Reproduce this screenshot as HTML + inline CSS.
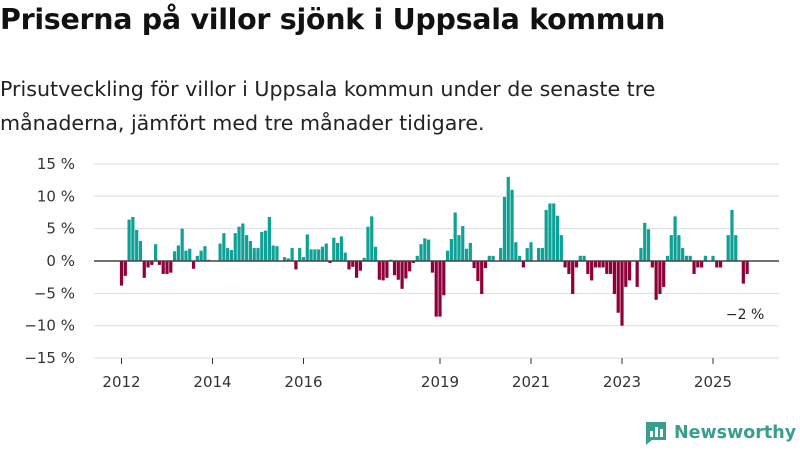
<!DOCTYPE html>
<html><head><meta charset="utf-8"><style>
body{margin:0;width:800px;height:450px;background:#fff;font-family:"Liberation Sans","DejaVu Sans",sans-serif;overflow:hidden;position:relative}
h1{position:absolute;left:0;top:3px;margin:0;font-size:28.5px;font-weight:bold;color:#111;font-family:"DejaVu Sans","Liberation Sans",sans-serif;letter-spacing:-0.3px;white-space:nowrap}
.sub{position:absolute;left:0;top:72px;margin:0;font-size:20.6px;line-height:34px;color:#222;font-family:"DejaVu Sans","Liberation Sans",sans-serif;white-space:nowrap}
svg{position:absolute;left:0;top:0}
</style></head><body>
<h1>Priserna på villor sjönk i Uppsala kommun</h1>
<p class="sub">Prisutveckling för villor i Uppsala kommun under de senaste tre<br>månaderna, jämfört med tre månader tidigare.</p>
<svg id="chart" width="800" height="450"></svg>
<script>
const yTicks=[15,10,5,0,-5,-10,-15];
const xTickYears=[2012,2014,2016,2019,2021,2023,2025];
const startYear=2012;
const values=[-3.8,-2.3,6.4,6.8,4.8,3.1,-2.6,-1.0,-0.6,2.6,-0.6,-2.0,-2.0,-1.8,1.5,2.4,5.0,1.6,1.9,-1.2,0.8,1.6,2.3,0.2,0,0,2.7,4.3,2.0,1.7,4.3,5.3,5.8,4.0,3.1,2.0,2.0,4.5,4.7,6.8,2.4,2.3,0,0.6,0.4,2.0,-1.3,2.0,0.6,4.1,1.8,1.8,1.8,2.2,
2.7,-0.3,3.6,2.8,3.8,1.3,-1.3,-0.9,-2.6,-1.5,0.5,5.3,6.9,2.2,-2.9,-3.0,-2.6,0.2,-2.2,-2.9,-4.3,-2.7,-1.6,-0.3,0.8,2.6,3.5,3.3,-1.8,-8.6,-8.6,-5.3,1.6,3.4,7.5,4.0,5.4,1.9,2.8,-1.1,-3.1,-5.1,-1.1,0.8,0.8,0,2.0,9.9,13.0,11.0,2.9,0.8,-1.0,2.0,2.9,0,2.0,2.0,7.9,8.9,
8.9,7.0,4.0,-1.0,-2.0,-5.1,-1.0,0.8,0.8,-2.0,-3.0,-1.0,-1.0,-1.0,-2.0,-2.0,-5.1,-8.0,-10.0,-4.0,-3.0,0,-4.0,2.0,5.9,4.9,-1.0,-6.0,-5.1,-4.0,0.8,4.0,6.9,4.0,2.0,0.8,0.8,-2.0,-1.0,-1.0,0.8,0,0.8,-1.0,-1.0,0,4.0,7.9,4.0,0,-3.5,-2.0];
const NS="http://www.w3.org/2000/svg";
const svg=document.getElementById('chart');
const x0=94,x1=779;
function yScale(v){return 261-v*6.47;}
function xScale(t){return 121.5+(t-startYear)*45.5;}
function mk(tag,attrs){const e=document.createElementNS(NS,tag);for(const k in attrs)e.setAttribute(k,attrs[k]);svg.appendChild(e);return e;}
yTicks.forEach(v=>{
  if(v!==0){const g=mk('line',{x1:x0,x2:x1,y1:yScale(v),y2:yScale(v),stroke:'#ddd','stroke-width':1});
  
  }
  const t=mk('text',{x:75,y:yScale(v)+5,'text-anchor':'end','font-size':15,fill:'#333','font-family':'DejaVu Sans, Liberation Sans, sans-serif'});
  t.textContent=(v<0?'−'+(-v):v)+' %';
  
  
});
values.forEach((v,i)=>{
  if(v===0)return;
  const cx=xScale(startYear+i/12);
  const r=mk('rect',{x:cx-1.6,width:3.2,y:Math.min(yScale(v),yScale(0)),height:Math.abs(yScale(v)-yScale(0)),fill:v>0?'#0fa196':'#8e0038'});
  
  
});
const z=mk('line',{x1:x0,x2:x1,y1:yScale(0),y2:yScale(0),stroke:'#444','stroke-width':1.5});


xTickYears.forEach(y=>{
  const cx=xScale(y);
  const tk=mk('line',{x1:cx,x2:cx,y1:358,y2:364,stroke:'#333'});
  
  
  const t=mk('text',{x:cx,y:387,'text-anchor':'middle','font-size':15,fill:'#333','font-family':'DejaVu Sans, Liberation Sans, sans-serif'});
  t.textContent=y;
  
  
});
const last=values[values.length-1];
const lab=mk('text',{x:xScale(startYear+(values.length-1)/12)-2,y:yScale(last)+45,'text-anchor':'middle','font-size':14,fill:'#222','font-family':'DejaVu Sans, Liberation Sans, sans-serif'});
lab.textContent='−'+Math.abs(Math.round(last))+' %';


</script>
<div style="position:absolute;left:644px;top:420px;display:flex;align-items:center;gap:6px;white-space:nowrap">
<svg width="24" height="26" style="position:static"><path d="M2 2h20v18H8l-6 5z" fill="#3a9e8f"/><rect x="6" y="11" width="3" height="6" fill="#fff"/><rect x="11" y="7" width="3" height="10" fill="#fff"/><rect x="16" y="9" width="3" height="8" fill="#fff"/></svg>
<span style="font-size:17.5px;font-weight:bold;color:#3a9e8f;font-family:'DejaVu Sans','Liberation Sans',sans-serif">Newsworthy</span></div>
</body></html>
